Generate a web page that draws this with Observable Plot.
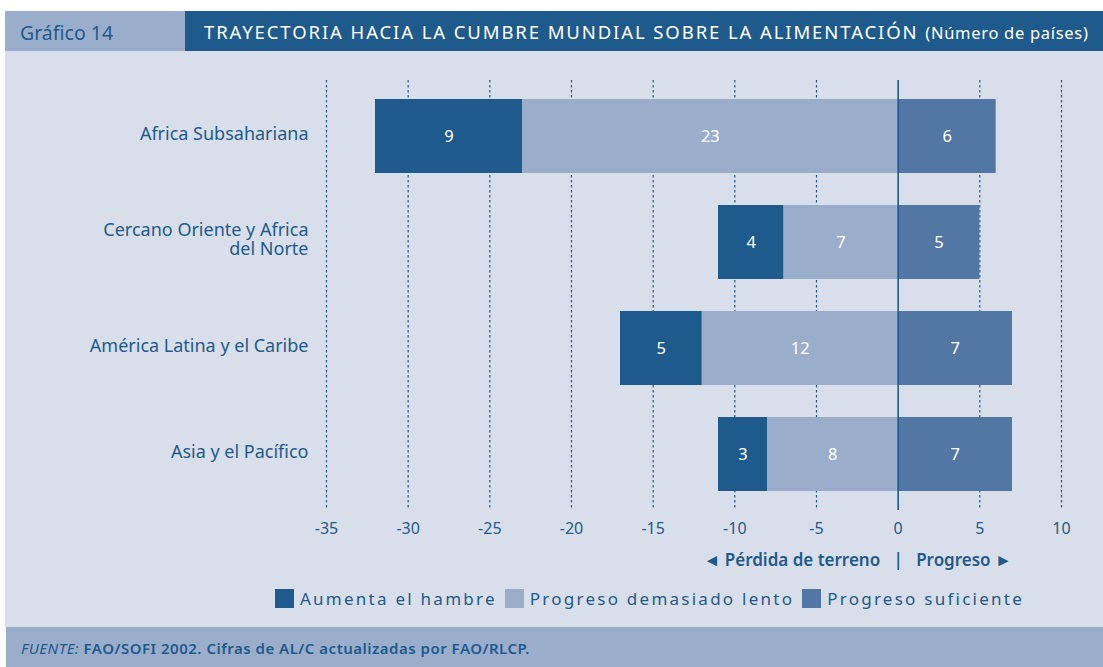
<!DOCTYPE html>
<html>
<head>
<meta charset="utf-8">
<script src="https://cdn.jsdelivr.net/npm/d3@7"></script>
<script src="https://cdn.jsdelivr.net/npm/@observablehq/plot@0.6"></script>
<style>
  html, body { margin: 0; padding: 0; background: #ffffff; }
  body { width: 1103px; height: 667px; position: relative; overflow: hidden; font-family: "Noto Sans", sans-serif; color: #1f5a8c; }
  #hdrL { position: absolute; left: 5px; top: 11px; width: 180px; height: 40px; background: #9aaecc; }
  #hdrL span { position: absolute; left: 15px; top: 8px; font-size: 19.5px; color: #1f5a8c; }
  #hdrR { position: absolute; left: 185px; top: 11px; width: 918px; height: 40px; background: #1f5a8c; color: #fff; }
  #hdrR span { position: absolute; left: 19px; top: 8px; font-size: 18.5px; letter-spacing: 1.9px; white-space: nowrap; }
  #hdrR small { font-size: 16.5px; letter-spacing: 0.7px; }
  #panel { position: absolute; left: 5px; top: 51px; width: 1098px; height: 576px; background: #d9dfea; }
  #chart { position: absolute; left: 5px; top: 52px; }
  #legend { position: absolute; left: 275px; top: 587px; display: flex; align-items: center; font-size: 17px; letter-spacing: 2.25px; white-space: nowrap; color: #1f5a8c; }
  #legend .sw { display: inline-block; width: 19px; height: 19px; margin-right: 6px; }
  #legend .it { display: flex; align-items: center; margin-right: 8px; }
  #footer { position: absolute; left: 6px; top: 627px; width: 1097px; height: 40px; background: #9aaecc; }
  #footer span { position: absolute; left: 15px; top: 11px; font-size: 15px; letter-spacing: 0.5px; color: #1f5a8c; font-weight: 600; white-space: nowrap; }
  #footer i { font-weight: 400; }
</style>
</head>
<body>
<div id="hdrL"><span>Gráfico 14</span></div>
<div id="hdrR"><span>TRAYECTORIA HACIA LA CUMBRE MUNDIAL SOBRE LA ALIMENTACIÓN <small>(Número de países)</small></span></div>
<div id="panel"></div>
<div id="chart"></div>
<div id="legend"></div>
<div id="footer"><span><i>FUENTE:</i> FAO/SOFI 2002. Cifras de AL/C actualizadas por FAO/RLCP.</span></div>
<script>
const regions = ["Africa Subsahariana", "Cercano Oriente y Africa\ndel Norte", "América Latina y el Caribe", "Asia y el Pacífico"];
const categories = ["Aumenta el hambre", "Progreso demasiado lento", "Progreso suficiente"];
const aumenta = [9, 4, 5, 3];
const lento = [23, 7, 12, 8];
const suficiente = [6, 5, 7, 7];
const xTicks = [-35, -30, -25, -20, -15, -10, -5, 0, 5, 10];
const colors = ["#1f5a8c", "#9aaecc", "#5277a5"];

const data = [];
regions.forEach((r, i) => {
  data.push({region: r, cat: categories[1], v: -lento[i], n: lento[i]});
  data.push({region: r, cat: categories[0], v: -aumenta[i], n: aumenta[i]});
  data.push({region: r, cat: categories[2], v: suficiente[i], n: suficiente[i]});
});

const W = 1093, H = 530;
const plot = Plot.plot({
  width: W,
  height: H,
  marginLeft: 321,
  marginRight: 37,
  marginTop: 28,
  marginBottom: 72,
  style: {background: "transparent", fontFamily: "Noto Sans, sans-serif", color: "#1f5a8c"},
  x: {domain: [-35, 10], label: null},
  y: {domain: regions, paddingInner: 0.3, paddingOuter: 0.17, label: null, axis: null},
  color: {domain: categories, range: colors},
  marks: [
    Plot.ruleX(xTicks.filter(d => d !== 0), {stroke: "#1f5a8c", strokeWidth: 1.2, strokeDasharray: "2.5,2.5"}),
    Plot.barX(data, Plot.stackX({x: "v", y: "region", z: "cat", fill: "cat", order: null})),
    Plot.text(data, Plot.stackX({x: "v", y: "region", z: "cat", text: "n", fill: "white", fontSize: 16.5, order: null})),
    Plot.ruleX([0], {stroke: "#1f5a8c", strokeWidth: 1.6}),
    Plot.axisX(xTicks, {tickSize: 0, tickPadding: 12, fontSize: 16, tickFormat: d => String(d), fill: "#1f5a8c", label: null}),
    Plot.text(regions, {y: d => d, text: d => d, frameAnchor: "left", textAnchor: "end", dx: -18, dy: -3, fontSize: 18, lineHeight: 1.08, fill: "#1f5a8c"}),
    Plot.text(["◄ Pérdida de terreno"], {x: () => -1.1, frameAnchor: "bottom", dy: 55, textAnchor: "end", fontSize: 17, fontWeight: 600, fill: "#1f5a8c"}),
    Plot.text(["|"], {x: () => 0, frameAnchor: "bottom", dy: 55, fontSize: 17, fontWeight: 600, fill: "#1f5a8c"}),
    Plot.text(["Progreso ►"], {x: () => 1.1, frameAnchor: "bottom", dy: 55, textAnchor: "start", fontSize: 17, fontWeight: 600, fill: "#1f5a8c"})
  ]
});
document.getElementById("chart").appendChild(plot);

const lg = document.getElementById("legend");
categories.forEach((c, i) => {
  const it = document.createElement("span");
  it.className = "it";
  const sw = document.createElement("span");
  sw.className = "sw";
  sw.style.background = colors[i];
  it.appendChild(sw);
  it.appendChild(document.createTextNode(c));
  lg.appendChild(it);
});
</script>
</body>
</html>
